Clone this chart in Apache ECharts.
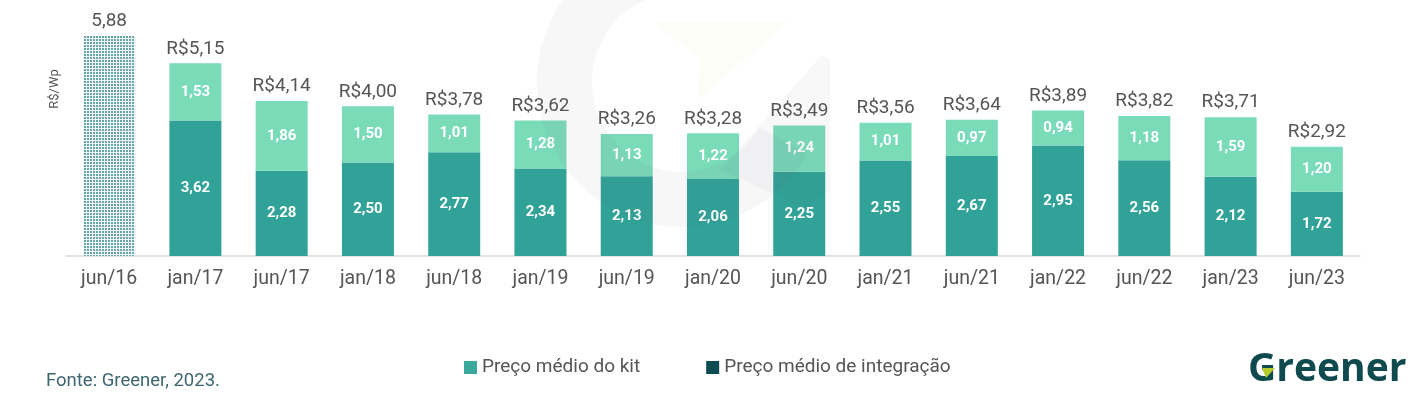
<!DOCTYPE html>
<html>
<head>
<meta charset="utf-8">
<script src="https://cdn.jsdelivr.net/npm/echarts@6/dist/echarts.min.js"></script>
<style>
html,body{margin:0;padding:0;background:#fff;}
#chart{width:1412px;height:398px;}
</style>
</head>
<body>
<div id="chart"></div>
<script>
var categories = ['jun/16','jan/17','jun/17','jan/18','jun/18','jan/19','jun/19','jan/20','jun/20','jan/21','jun/21','jan/22','jun/22','jan/23','jun/23'];
var baseline2016 = [5.88,'-','-','-','-','-','-','-','-','-','-','-','-','-','-'];
var integracao = ['-',3.62,2.28,2.50,2.77,2.34,2.13,2.06,2.25,2.55,2.67,2.95,2.56,2.12,1.72];
var kit = ['-',1.53,1.86,1.50,1.01,1.28,1.13,1.22,1.24,1.01,0.97,0.94,1.18,1.59,1.20];
var totals = ['5,88','R$5,15','R$4,14','R$4,00','R$3,78','R$3,62','R$3,26','R$3,28','R$3,49','R$3,56','R$3,64','R$3,89','R$3,82','R$3,71','R$2,92'];

var FONT = 'Roboto, "Noto Sans", sans-serif';
function fmt(v){ return v.toFixed(2).replace('.', ','); }

// dotted pattern for the 2016 bar
var pc = document.createElement('canvas');
pc.width = 3; pc.height = 3;
var px = pc.getContext('2d');
px.fillStyle = '#f2f8f8'; px.fillRect(0,0,3,3);
px.fillStyle = '#6aa4ab'; px.fillRect(0,0,2,2);

var chart = echarts.init(document.getElementById('chart'), null, {renderer:'canvas'});
chart.setOption({
  animation:false,
  backgroundColor:'#ffffff',
  textStyle:{fontFamily:FONT},
  grid:{left:66, right:52, top:31.5, bottom:142},
  legend:{
    left:459, top:353, icon:'rect', itemWidth:13, itemHeight:13, itemGap:66,
    textStyle:{fontSize:19, color:'#555555', fontFamily:FONT},
    data:[
      {name:'Preço médio do kit', itemStyle:{color:'#3aa89c'}},
      {name:'Preço médio de integração', itemStyle:{color:'#0d4b52'}}
    ]
  },
  xAxis:{
    type:'category', data:categories,
    axisLine:{lineStyle:{color:'#d9d9d9', width:1.5}},
    axisTick:{show:false},
    axisLabel:{fontSize:19.5, color:'#555555', margin:13, fontFamily:FONT}
  },
  yAxis:{type:'value', min:0, max:6, show:false, splitLine:{show:false}},
  series:[
    {
      name:'2016', type:'bar', stack:'s', barWidth:52, data:baseline2016,
      itemStyle:{color:{image:pc, repeat:'repeat'}},
      label:{show:true, position:'top', distance:5, fontSize:19, color:'#555555', fontFamily:FONT,
        formatter:function(p){return totals[p.dataIndex];}}
    },
    {
      name:'Preço médio de integração', type:'bar', stack:'s', barWidth:52, data:integracao,
      itemStyle:{color:'#31a297'},
      label:{show:true, position:'inside', fontSize:15, fontWeight:'bold', color:'#ffffff', fontFamily:FONT,
        formatter:function(p){return fmt(p.value);}}
    },
    {
      name:'Preço médio do kit', type:'bar', stack:'s', barWidth:52, data:kit,
      itemStyle:{color:'#7adbb9'},
      label:{show:true, position:'inside', fontSize:15, fontWeight:'bold', color:'#ffffff', fontFamily:FONT,
        formatter:function(p){return fmt(p.value);}}
    },
    {
      name:'totals', type:'bar', stack:'s', barWidth:52,
      data:categories.map(function(c,i){return i===0?'-':0;}),
      itemStyle:{color:'transparent'},
      label:{show:true, position:'top', distance:5, fontSize:19, color:'#555555', fontFamily:FONT,
        formatter:function(p){return totals[p.dataIndex];}}
    }
  ],
  graphic:[
    {type:'sector', z:100, silent:true, shape:{cx:682, cy:82, r0:90, r:145, startAngle:Math.PI/6, endAngle:Math.PI*1.5, clockwise:true},
      style:{fill:'rgba(90,100,115,0.05)'}},
    {type:'polygon', z:100, silent:true, shape:{points:[[822,55],[830,60],[830,190],[806,208],[720,170]]},
      style:{fill:'rgba(90,100,115,0.045)'}},
    {type:'polygon', z:100, silent:true, shape:{points:[[653,22],[787,22],[698,100],[700,58]]},
      style:{fill:'rgba(215,215,120,0.05)'}},
    {type:'text', left:46, top:372, style:{text:'Fonte: Greener, 2023.', fontSize:18.5, fill:'#3d6670', fontFamily:FONT}},
    {type:'text', x:55, y:89, rotation:Math.PI/2, style:{text:'R$/Wp', fontSize:13, fill:'#555555', fontFamily:FONT, align:'center', verticalAlign:'middle'}},
    {type:'text', left:1248, top:350, style:{text:'Greener', fontSize:39, fontWeight:'bold', fill:'#0f4a4f', fontFamily:'"Open Sans", Roboto, sans-serif'}},
    {type:'polygon', z:101, shape:{points:[[1262,368],[1275,368],[1266,378]]}, style:{fill:'#b5cc2e'}}
  ]
});
</script>
</body>
</html>
